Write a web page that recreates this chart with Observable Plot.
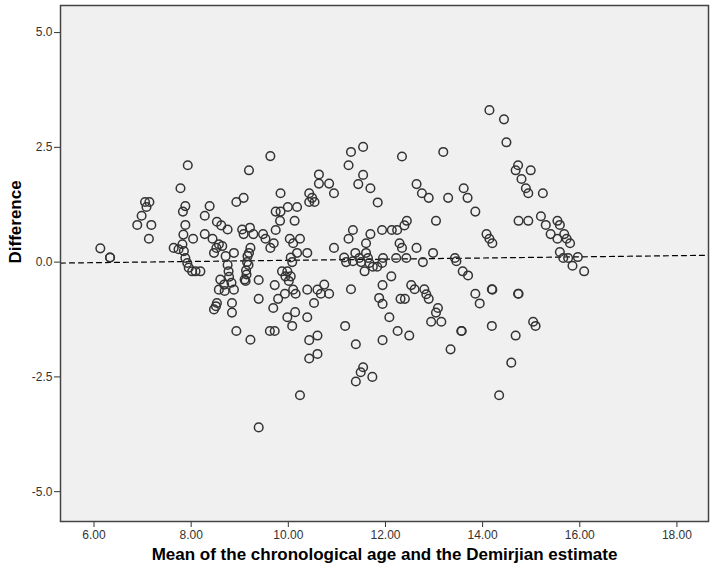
<!DOCTYPE html>
<html><head><meta charset="utf-8">
<script src="https://cdn.jsdelivr.net/npm/d3@7"></script>
<script src="https://cdn.jsdelivr.net/npm/@observablehq/plot@0.6"></script>
<style>body{margin:0;background:#fff;}</style>
</head><body><div id="chart"></div>
<script>
const meanAge = [
6.13,6.33,6.33,6.89,6.98,7.05,7.14,7.08,7.18,7.13,7.64,7.74,7.93,7.78,7.88,7.83,7.88,7.84,7.82,7.85,
7.88,7.92,7.95,8.02,8.09,8.19,8.04,8.38,8.28,8.28,8.44,8.53,8.62,8.75,8.57,8.64,8.52,8.47,8.71,8.88,
9.05,9.08,9.21,9.28,9.22,9.19,9.16,9.15,9.18,9.13,9.14,9.10,9.12,8.75,8.77,8.78,8.60,8.83,8.68,8.57,
8.69,8.88,8.53,8.51,8.47,8.84,8.84,8.93,9.22,9.63,9.19,10.63,10.63,10.84,10.94,9.84,9.08,8.93,10.43,10.49,
10.43,10.54,9.99,10.18,9.74,9.84,9.83,10.13,9.48,9.53,9.70,9.63,9.74,10.03,10.24,10.10,10.18,10.39,10.94,10.05,
10.08,11.15,9.39,9.39,9.72,9.79,9.69,9.93,9.87,9.98,9.94,10.05,10.01,10.10,10.15,9.98,10.14,10.08,9.62,9.72,
10.39,10.39,10.53,10.60,10.74,10.67,10.84,10.43,10.60,10.43,10.60,10.24,9.39,11.17,11.54,11.29,11.24,12.34,13.19,11.54,
11.44,11.69,11.84,12.64,12.75,12.89,13.29,13.61,13.69,13.04,12.44,12.39,11.93,12.13,12.24,11.33,11.24,11.69,11.60,12.29,
12.34,12.64,12.98,11.38,11.60,11.19,11.33,11.46,11.50,11.64,11.67,11.57,11.74,11.83,11.95,11.93,12.22,12.43,12.12,12.77,
13.43,13.46,13.59,13.70,11.94,11.29,11.87,11.94,12.31,12.40,12.53,12.60,12.80,12.84,12.89,13.08,13.04,12.94,13.15,12.08,
12.25,12.49,11.94,11.39,13.57,13.56,13.34,11.54,11.49,11.39,11.73,14.14,14.44,14.49,14.73,14.68,14.99,14.80,14.89,14.94,
15.24,13.85,14.74,14.94,15.20,15.30,15.54,15.59,15.40,15.54,15.68,15.73,15.80,14.08,14.14,14.20,15.59,15.66,15.76,15.96,
15.85,16.09,13.85,13.94,14.19,14.20,14.73,14.74,14.19,14.68,15.04,15.09,14.59,14.34
];
const difference = [
0.30,0.10,0.10,0.81,1.01,1.31,1.31,1.20,0.81,0.51,0.31,0.28,2.11,1.61,1.22,1.10,0.81,0.60,0.39,0.24,
0.09,-0.02,-0.12,-0.20,-0.20,-0.20,0.51,1.22,1.01,0.61,0.51,0.88,0.80,0.71,0.39,0.35,0.31,0.20,0.13,0.20,
0.71,0.61,0.75,0.61,0.31,0.20,0.13,0.00,-0.06,-0.18,-0.27,-0.38,-0.41,-0.06,-0.20,-0.32,-0.38,-0.45,-0.49,-0.60,
-0.63,-0.60,-0.89,-0.96,-1.03,-0.89,-1.10,-1.50,-1.69,2.31,2.00,1.91,1.71,1.71,1.50,1.50,1.40,1.31,1.50,1.40,
1.31,1.31,1.20,1.20,1.10,1.10,0.90,0.90,0.61,0.51,0.41,0.31,0.70,0.51,0.51,0.41,0.20,0.20,0.31,0.10,
0.00,0.10,-0.39,-0.80,-0.50,-0.80,-1.00,-0.69,-0.20,-0.20,-0.31,-0.31,-0.41,-0.60,-0.69,-1.20,-1.09,-1.39,-1.50,-1.50,
-0.60,-1.20,-0.89,-0.60,-0.49,-0.69,-0.69,-1.70,-1.60,-2.10,-2.00,-2.90,-3.60,-1.39,2.51,2.40,2.11,2.30,2.40,1.90,
1.70,1.61,1.30,1.70,1.50,1.40,1.40,1.61,1.40,0.90,0.90,0.80,0.70,0.70,0.70,0.70,0.51,0.61,0.41,0.41,
0.31,0.31,0.20,0.20,0.20,0.00,0.02,0.09,0.00,0.09,-0.02,-0.20,-0.10,-0.10,0.09,-0.02,0.09,0.09,-0.31,0.00,
0.09,0.02,-0.20,-0.29,-0.50,-0.59,-0.78,-0.91,-0.80,-0.80,-0.50,-0.59,-0.59,-0.70,-0.80,-1.00,-1.10,-1.30,-1.30,-1.20,
-1.50,-1.60,-1.70,-1.79,-1.50,-1.50,-1.90,-2.29,-2.40,-2.60,-2.50,3.31,3.11,2.61,2.11,2.00,2.00,1.81,1.61,1.50,
1.50,1.10,0.90,0.90,1.00,0.81,0.90,0.81,0.61,0.51,0.61,0.51,0.41,0.61,0.51,0.41,0.22,0.09,0.09,0.11,
-0.08,-0.20,-0.69,-0.90,-0.59,-0.60,-0.69,-0.69,-1.39,-1.60,-1.30,-1.39,-2.19,-2.90
];
const xTicks = [6, 8, 10, 12, 14, 16, 18];
const yTicks = [-5, -2.5, 0, 2.5, 5];
const xDomain = [5.31, 18.65];
const yDomain = [-5.65, 5.59];
const fitIntercept = -0.088;
const fitSlope = 0.0127;
const xTitle = "Mean of the chronological age and the Demirjian estimate";
const yTitle = "Difference";

const points = meanAge.map((m, i) => ({mean: m, diff: difference[i]}));
const fit = xDomain.map(x => ({x, y: fitIntercept + fitSlope * x}));

const chart = Plot.plot({
  width: 714, height: 575,
  marginLeft: 60, marginRight: 6, marginTop: 5, marginBottom: 54,
  x: {domain: xDomain},
  y: {domain: yDomain},
  style: {fontFamily: "'Liberation Sans', Arial, sans-serif", fontSize: "12px", color: "#333", background: "#fff"},
  marks: [
    Plot.frame({fill: "#f0f0f0", stroke: "none"}),
    Plot.axisX({ticks: xTicks, tickFormat: d => d.toFixed(2), tickSize: 6, tickPadding: 3, label: null, fontSize: 12}),
    Plot.axisY({ticks: yTicks, tickFormat: d => d.toFixed(1), tickSize: 6, tickPadding: 2, label: null, fontSize: 12}),
    Plot.line(fit, {x: "x", y: "y", stroke: "#000", strokeWidth: 1.2, strokeDasharray: "5,4"}),
    Plot.dot(points, {x: "mean", y: "diff", r: 4.3, stroke: "#333", strokeWidth: 1.5, fill: "none"}),
    Plot.frame({stroke: "#444", strokeWidth: 1.5}),
    Plot.text([xTitle], {text: d => d, frameAnchor: "bottom", dy: 38, fontWeight: "bold", fontSize: 17, fill: "#000"}),
    Plot.text([yTitle], {text: d => d, frameAnchor: "left", dx: -45, rotate: -90, fontWeight: "bold", fontSize: 17, fill: "#000"})
  ]
});
document.getElementById("chart").appendChild(chart);
</script>
</body></html>
